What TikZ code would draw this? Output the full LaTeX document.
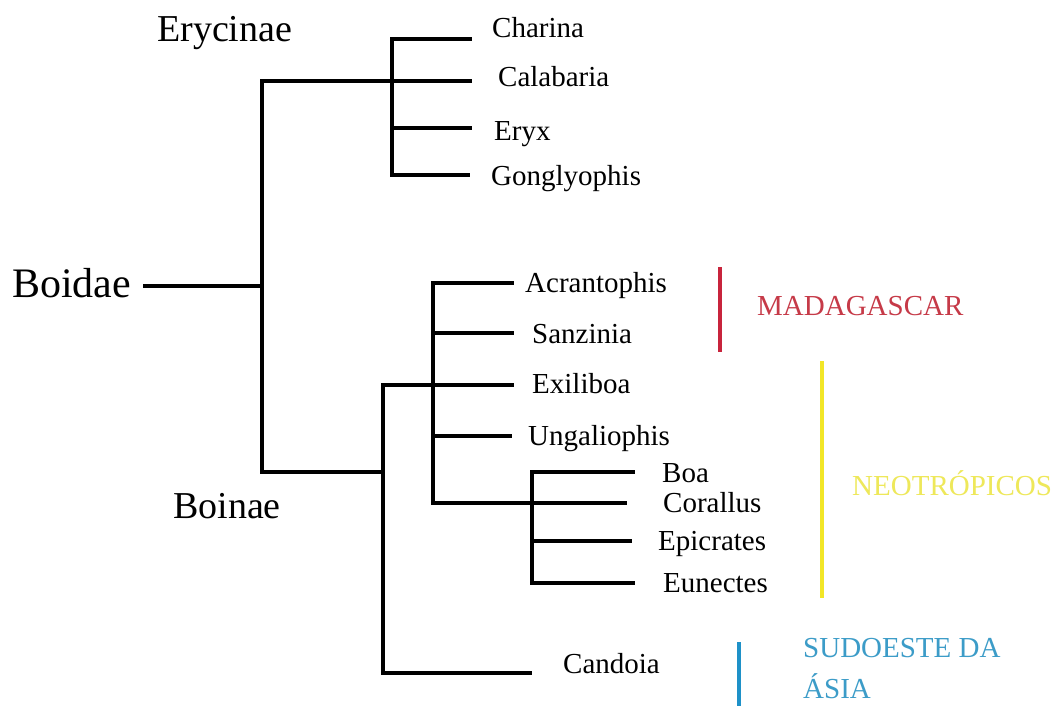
\documentclass[tikz,border=0pt]{standalone}
\usepackage{fontspec}
\setmainfont{Liberation Serif}
\newfontfamily\tnr{Liberation Serif}
\definecolor{madred}{RGB}{200,36,60}
\definecolor{madtext}{RGB}{198,58,72}
\definecolor{neoyel}{RGB}{242,230,40}
\definecolor{neotext}{RGB}{238,232,90}
\definecolor{asiablue}{RGB}{30,145,200}
\definecolor{asiatext}{RGB}{60,156,200}
\begin{document}
\begin{tikzpicture}[x=1pt,y=-1pt,
  branch/.style={line width=4.5pt, line cap=rect, black},
  bar/.style={line width=4pt},
  leaf/.style={anchor=base west, inner sep=0pt, font=\tnr\fontsize{29}{34}\selectfont},
  clade/.style={anchor=base west, inner sep=0pt, font=\tnr\fontsize{38}{44}\selectfont},
  region/.style={anchor=base west, inner sep=0pt, font=\tnr\fontsize{29}{34}\selectfont}]
\useasboundingbox (0,0) rectangle (1060,706);
\fill[white] (0,0) rectangle (1060,706);

% clade labels
\node[anchor=base west, inner sep=0pt, font=\tnr\fontsize{42}{48}\selectfont] (boidae) at (12,297) {Boidae};
\node[clade] (erycinae) at (157,42) {Erycinae};
\node[clade] (boinae) at (173,518) {Boinae};

% internal coordinates
\coordinate (rootL) at (145,286);
\coordinate (root) at (262,286);
\coordinate (rootT) at (262,81);
\coordinate (rootB) at (262,472);
\coordinate (eryT) at (392,39);
\coordinate (eryM) at (392,81);
\coordinate (eryB) at (392,175);
\coordinate (boiB) at (383,472);
\coordinate (boiT) at (383,385);
\coordinate (boiC) at (383,673);
\coordinate (inT) at (433,283);
\coordinate (inE) at (433,385);
\coordinate (inB) at (433,503);
\coordinate (neoT) at (532,472);
\coordinate (neoM) at (532,503);
\coordinate (neoB) at (532,583);

% leaf tips
\coordinate (tCharina) at (470,39);
\coordinate (tCalabaria) at (470,81);
\coordinate (tEryx) at (470,128);
\coordinate (tGong) at (468,175);
\coordinate (tAcr) at (512,283);
\coordinate (tSan) at (512,333);
\coordinate (tExi) at (512,385);
\coordinate (tUng) at (510,436);
\coordinate (tBoa) at (633,472);
\coordinate (tCor) at (625,503);
\coordinate (tEpi) at (630,541);
\coordinate (tEun) at (633,583);
\coordinate (tCan) at (530,673);

% leaf labels
\node[leaf] (charina) at (492,38) {Charina};
\node[leaf] (calabaria) at (498,87) {Calabaria};
\node[leaf] (eryx) at (494,141) {Eryx};
\node[leaf] (gong) at (491,185) {Gonglyophis};
\node[leaf] (acr) at (525,292) {Acrantophis};
\node[leaf] (san) at (532,343) {Sanzinia};
\node[leaf] (exi) at (532,393) {Exiliboa};
\node[leaf] (ung) at (528,445) {Ungaliophis};
\node[leaf] (boa) at (662,482) {Boa};
\node[leaf] (cor) at (663,512) {Corallus};
\node[leaf] (epi) at (658,550) {Epicrates};
\node[leaf] (eun) at (663,592) {Eunectes};
\node[leaf] (can) at (563,673) {Candoia};

% tree
\draw[branch] (rootL) -- (root);
\draw[branch] (rootT) -- (rootB);
\draw[branch] (rootT) -- (eryM);
\draw[branch] (eryT) -- (eryB);
\draw[branch] (eryT) -- (tCharina);
\draw[branch] (eryM) -- (tCalabaria);
\draw[branch] (eryB |- tEryx) -- (tEryx);
\draw[branch] (eryB) -- (tGong);
\draw[branch] (rootB) -- (boiB);
\draw[branch] (boiT) -- (boiC);
\draw[branch] (boiT) -- (tExi);
\draw[branch] (boiC) -- (tCan);
\draw[branch] (inT) -- (inB);
\draw[branch] (inT) -- (tAcr);
\draw[branch] (inT |- tSan) -- (tSan);
\draw[branch] (inT |- tUng) -- (tUng);
\draw[branch] (inB) -- (tCor);
\draw[branch] (neoT) -- (neoB);
\draw[branch] (neoT) -- (tBoa);
\draw[branch] (neoB |- tEpi) -- (tEpi);
\draw[branch] (neoB) -- (tEun);

% regions
\coordinate (madT) at (720,267);
\coordinate (madB) at (720,352);
\draw[bar, madred] (madT) -- (madB);
\node[region, text=madtext] (mad) at (757,315) {MADAGASCAR};
\coordinate (neoBarT) at (822,361);
\coordinate (neoBarB) at (822,598);
\draw[bar, neoyel] (neoBarT) -- (neoBarB);
\node[region, text=neotext] (neo) at (852,495) {NEOTRÓPICOS};
\coordinate (asiaT) at (739,642);
\coordinate (asiaB) at (739,706);
\draw[bar, asiablue] (asiaT) -- (asiaB);
\node[region, text=asiatext] (sud) at (803,657) {SUDOESTE DA};
\node[region, text=asiatext] (asia) at (803,698) {ÁSIA};
\end{tikzpicture}
\end{document}
